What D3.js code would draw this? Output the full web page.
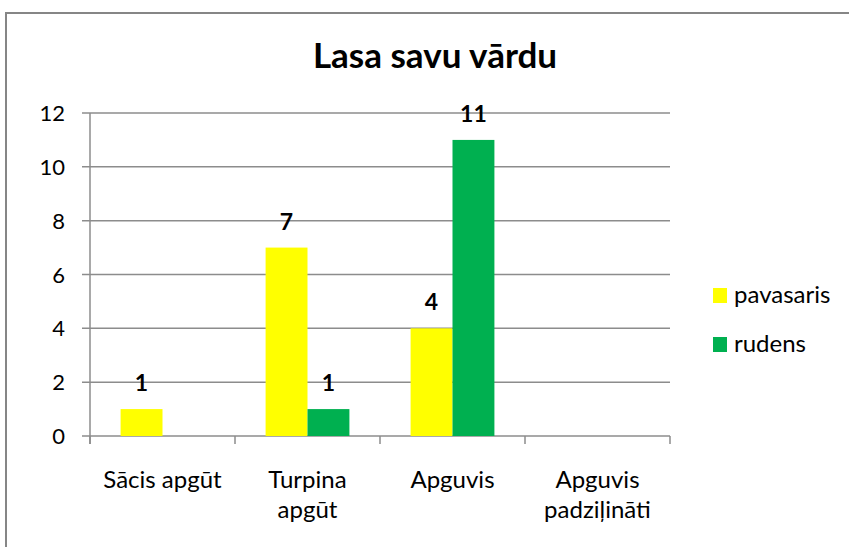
<!DOCTYPE html>
<html lang="lv">
  <head>
    <meta charset="UTF-8" />
    <title>Lasa savu vārdu</title>
    <style>
      body {
        margin: 0;
        background: #ffffff;
        font-family: Lato, "Open Sans", sans-serif;
      }
      .grid line {
        stroke: #8c8c8c;
        stroke-width: 1.5px;
      }
    </style>
    <script src="https://d3js.org/d3.v7.min.js"></script>
  </head>
  <body>
    <svg id="chart"></svg>
    <script>
      const categories = [
        ["Sācis apgūt"],
        ["Turpina", "apgūt"],
        ["Apguvis"],
        ["Apguvis", "padziļināti"],
      ];
      const seriesNames = ["pavasaris", "rudens"];
      const pavasaris = [1, 7, 4, null];
      const rudens = [null, 1, 11, null];
      const yTicks = [0, 2, 4, 6, 8, 10, 12];
      const colors = ["#ffff00", "#00b050"];

      const width = 849;
      const height = 547;
      const margin = { top: 113, left: 90, right: 179, bottom: 111 };

      const svg = d3.select("#chart").attr("width", width).attr("height", height);

      // outer chart border
      svg
        .append("rect")
        .attr("x", 6)
        .attr("y", 13)
        .attr("width", width + 20)
        .attr("height", height + 20)
        .attr("fill", "none")
        .attr("stroke", "#868686")
        .attr("stroke-width", 2);

      svg
        .append("text")
        .attr("x", 435)
        .attr("y", 68)
        .attr("text-anchor", "middle")
        .attr("font-size", 35)
        .attr("font-weight", "bold")
        .attr("fill", "#000")
        .text("Lasa savu vārdu");

      const x = d3
        .scaleBand()
        .domain(d3.range(categories.length))
        .range([margin.left, width - margin.right]);

      const xSub = d3
        .scaleBand()
        .domain(seriesNames)
        .range([0, x.bandwidth()])
        .paddingInner(0)
        .paddingOuter(0.73);

      const y = d3
        .scaleLinear()
        .domain([0, 12])
        .range([height - margin.bottom, margin.top]);

      // gridlines with outward ticks
      const grid = svg.append("g").attr("class", "grid");
      grid
        .selectAll("line")
        .data(yTicks)
        .join("line")
        .attr("x1", margin.left - 8)
        .attr("x2", width - margin.right)
        .attr("y1", (d) => y(d))
        .attr("y2", (d) => y(d));

      // y axis labels
      svg
        .append("g")
        .selectAll("text")
        .data(yTicks)
        .join("text")
        .attr("x", 65)
        .attr("y", (d) => y(d) + 8)
        .attr("text-anchor", "end")
        .attr("font-size", 22)
        .attr("fill", "#000")
        .text((d) => d);

      // y axis line
      svg
        .append("line")
        .attr("x1", margin.left)
        .attr("x2", margin.left)
        .attr("y1", y(12))
        .attr("y2", y(0) + 8)
        .attr("stroke", "#8c8c8c")
        .attr("stroke-width", 1.5);

      // x tick marks at band boundaries
      const bounds = d3.range(categories.length + 1).map((i) =>
        i < categories.length ? x(i) : x(i - 1) + x.bandwidth()
      );
      svg
        .append("g")
        .selectAll("line")
        .data(bounds)
        .join("line")
        .attr("x1", (d) => d)
        .attr("x2", (d) => d)
        .attr("y1", y(0))
        .attr("y2", y(0) + 8)
        .attr("stroke", "#8c8c8c")
        .attr("stroke-width", 1.5);

      // bars
      const seriesData = [pavasaris, rudens];
      seriesData.forEach((vals, si) => {
        const g = svg.append("g");
        const pts = vals
          .map((v, i) => ({ i, v }))
          .filter((d) => d.v !== null);
        g.selectAll("rect")
          .data(pts)
          .join("rect")
          .attr("x", (d) => x(d.i) + xSub(seriesNames[si]))
          .attr("width", xSub.bandwidth())
          .attr("y", (d) => y(d.v))
          .attr("height", (d) => y(0) - y(d.v))
          .attr("fill", colors[si]);
        g.selectAll("text")
          .data(pts)
          .join("text")
          .attr("x", (d) => x(d.i) + xSub(seriesNames[si]) + xSub.bandwidth() / 2)
          .attr("y", (d) => y(d.v) - 18)
          .attr("text-anchor", "middle")
          .attr("font-size", 23)
          .attr("font-weight", "bold")
          .attr("fill", "#000")
          .text((d) => d.v);
      });

      // category labels
      const cat = svg
        .append("g")
        .selectAll("text")
        .data(categories)
        .join("text")
        .attr("x", (d, i) => x(i) + x.bandwidth() / 2)
        .attr("y", 488)
        .attr("text-anchor", "middle")
        .attr("font-size", 24)
        .attr("fill", "#000");
      cat
        .selectAll("tspan")
        .data((d) => d)
        .join("tspan")
        .attr("x", function () {
          return this.parentNode.getAttribute("x");
        })
        .attr("dy", (d, j) => (j === 0 ? 0 : 30))
        .text((d) => d);

      // legend
      const legend = svg
        .append("g")
        .selectAll("g")
        .data(seriesNames)
        .join("g")
        .attr("transform", (d, i) => `translate(713, ${288 + i * 49})`);
      legend
        .append("rect")
        .attr("width", 14)
        .attr("height", 15)
        .attr("fill", (d, i) => colors[i]);
      legend
        .append("text")
        .attr("x", 21)
        .attr("y", 15)
        .attr("font-size", 24)
        .attr("fill", "#000")
        .text((d) => d);
    </script>
  </body>
</html>
